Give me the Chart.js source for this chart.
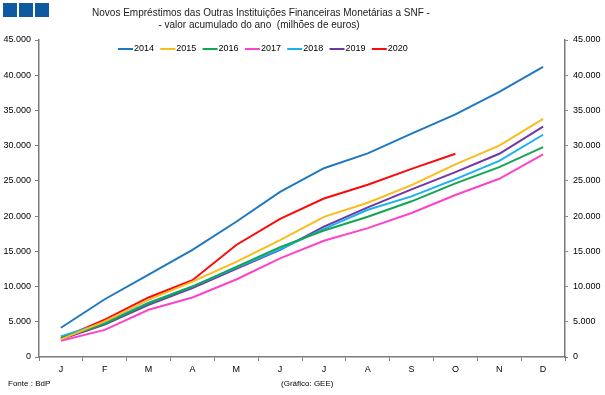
<!DOCTYPE html>
<html>
<head>
<meta charset="utf-8">
<script src="https://cdn.jsdelivr.net/npm/chart.js@4"></script>
<style>
    body { margin: 0; background: #fff; }
    #wrap { width: 605px; height: 395px; position: relative; }
</style>
</head>
<body>
<div id="wrap"><canvas id="chart"></canvas></div>
<script>
// months shown on the x axis
const months = ['J', 'F', 'M', 'A', 'M', 'J', 'J', 'A', 'S', 'O', 'N', 'D'];
const years = ['2014', '2015', '2016', '2017', '2018', '2019', '2020'];

// accumulated values, millions of euros
const v2014 = [4150, 8200, 11700, 15200, 19200, 23450, 26800, 28900, 31700, 34450, 37650, 41200];
const v2015 = [2500, 5050, 8100, 10700, 13500, 16600, 19900, 21900, 24400, 27350, 30000, 33800];
const v2016 = [2700, 4700, 7600, 10000, 12800, 15600, 17950, 19900, 22100, 24650, 26950, 29800];
const v2017 = [2300, 3850, 6700, 8450, 11000, 14000, 16500, 18300, 20450, 23000, 25300, 28750];
const v2018 = [2900, 4900, 7700, 10000, 12700, 15300, 18200, 20900, 22800, 25250, 27850, 31550];
const v2019 = [2500, 4600, 7400, 9800, 12500, 15200, 18500, 21250, 23800, 26250, 28850, 32700];
const v2020 = [2650, 5300, 8450, 10900, 15900, 19600, 22500, 24450, 26700, 28850];

const yMax = 45000;
const yStep = 5000;

const colors = ['#1f78c0', '#fbbc1c', '#12a653', '#fd44c8', '#1cb0ec', '#7236a4', '#fb0a0a'];

const titleLines = [
    'Novos Empréstimos das Outras Instituições Financeiras Monetárias a SNF -',
    '- valor acumulado do ano  (milhões de euros)'
];
const sourceText = 'Fonte : BdP';
const creditText = '(Gráfico: GEE)';

const fontFamily = '"Liberation Sans", Arial, sans-serif';

function formatThousands(value) {
    return String(value).replace(/\B(?=(\d{3})+(?!\d))/g, '.');
}

function makeDataset(label, values, color) {
    return {
        label: label,
        data: values,
        borderColor: color,
        backgroundColor: color,
        borderWidth: 2,
        pointRadius: 0,
        tension: 0,
        fill: false,
        yAxisID: 'y'
    };
}

// title, logo, legend and source notes
const decorations = {
    id: 'decorations',
    afterDraw(chart) {
        const ctx = chart.ctx;
        ctx.save();

        // logo squares
        ctx.fillStyle = '#0d5aa0';
        [3, 19, 35].forEach(x => ctx.fillRect(x, 3, 14, 14));

        // title
        ctx.fillStyle = '#1a1a1a';
        ctx.font = '10px ' + fontFamily;
        ctx.textAlign = 'center';
        ctx.textBaseline = 'middle';
        ctx.fillText(titleLines[0], 261, 13);
        ctx.fillText(titleLines[1], 259, 25);

        // legend
        ctx.font = '9px ' + fontFamily;
        ctx.textAlign = 'left';
        chart.data.datasets.forEach((ds, i) => {
            let x = 118 + i * 42.3;
            ctx.strokeStyle = ds.borderColor;
            ctx.lineWidth = 2;
            ctx.beginPath();
            ctx.moveTo(x, 49);
            ctx.lineTo(x + 15, 49);
            ctx.stroke();
            ctx.fillStyle = '#000';
            ctx.fillText(ds.label, x + 16, 49);
        });

        // footnotes
        ctx.font = '8px ' + fontFamily;
        ctx.fillText(sourceText, 8, 384);
        ctx.fillText(creditText, 281, 384);

        ctx.restore();
    }
};

function loadChart() {
    let ctx = document.getElementById('chart');
    let datasets = [v2014, v2015, v2016, v2017, v2018, v2019, v2020]
        .map((values, i) => makeDataset(years[i], values, colors[i]));

    let yTicks = {
        color: '#000',
        font: { family: fontFamily, size: 9 },
        padding: 4,
        stepSize: yStep,
        callback: value => formatThousands(value)
    };

    new Chart(ctx, {
        type: 'line',
        data: {
            labels: months,
            datasets: datasets
        },
        options: {
            responsive: true,
            maintainAspectRatio: false,
            animation: false,
            layout: {
                padding: { top: 40, right: 0, bottom: 0, left: 0 }
            },
            plugins: {
                legend: { display: false },
                title: { display: false },
                tooltip: { enabled: false }
            },
            scales: {
                x: {
                    offset: true,
                    grid: {
                        offset: true,
                        drawOnChartArea: false,
                        tickLength: 4,
                        color: '#808080'
                    },
                    border: { color: '#7a7a7a', width: 1.5 },
                    ticks: {
                        color: '#000',
                        font: { family: fontFamily, size: 9 },
                        padding: 3,
                        maxRotation: 0,
                        autoSkip: false
                    },
                    afterFit: scale => { scale.height = 38; }
                },
                y: {
                    position: 'left',
                    min: 0,
                    max: yMax,
                    grid: { drawOnChartArea: false, tickLength: 4, color: '#808080' },
                    border: { color: '#7a7a7a', width: 1.5 },
                    ticks: yTicks,
                    afterFit: scale => { scale.width = 39; }
                },
                y2: {
                    position: 'right',
                    min: 0,
                    max: yMax,
                    grid: { drawOnChartArea: false, tickLength: 3, color: '#808080' },
                    border: { color: '#7a7a7a', width: 1.5 },
                    ticks: Object.assign({}, yTicks, { padding: 5 }),
                    afterFit: scale => { scale.width = 40; }
                }
            }
        },
        plugins: [decorations]
    });
}

loadChart();
</script>
</body>
</html>
